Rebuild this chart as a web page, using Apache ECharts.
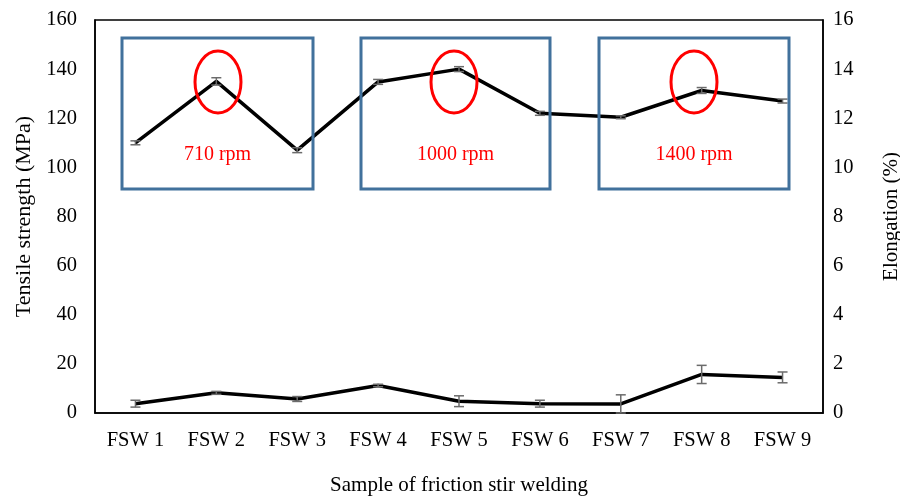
<!DOCTYPE html>
<html>
<head>
<meta charset="utf-8">
<script src="https://cdn.jsdelivr.net/npm/echarts@6/dist/echarts.min.js"></script>
<style>html,body{margin:0;padding:0;background:#fff}#c{width:900px;height:496px}</style>
</head>
<body>
<div id="c"></div>
<script>
var categories = ['FSW 1','FSW 2','FSW 3','FSW 4','FSW 5','FSW 6','FSW 7','FSW 8','FSW 9'];
var tensile = [110, 135, 107, 134.8, 140, 122, 120.4, 131.3, 127];
var tensileErr = [0.8, 1.5, 1.0, 1.0, 1.0, 0.8, 0.6, 1.2, 0.8];
var elongation = [0.38, 0.82, 0.57, 1.12, 0.48, 0.38, 0.37, 1.57, 1.45];
var elongationErr = [0.14, 0.06, 0.1, 0.05, 0.22, 0.14, 0.37, 0.37, 0.22];
var boxLabels = ['710 rpm', '1000 rpm', '1400 rpm'];

var FONT = '"Liberation Serif", "Times New Roman", serif';

function errItems(vals, errs) {
  return vals.map(function (v, i) { return [i, v - errs[i], v + errs[i]]; });
}
function errRender(params, api) {
  var x = api.value(0);
  var lo = api.coord([x, api.value(1)]);
  var hi = api.coord([x, api.value(2)]);
  var hw = 5;
  var st = { stroke: '#6b6b6b', lineWidth: 1.5 };
  return {
    type: 'group',
    children: [
      { type: 'line', shape: { x1: lo[0], y1: lo[1], x2: hi[0], y2: hi[1] }, style: st },
      { type: 'line', shape: { x1: lo[0] - hw, y1: lo[1], x2: lo[0] + hw, y2: lo[1] }, style: st },
      { type: 'line', shape: { x1: hi[0] - hw, y1: hi[1], x2: hi[0] + hw, y2: hi[1] }, style: st }
    ]
  };
}

var chart = echarts.init(document.getElementById('c'));
var boxes = [[122, 38, 191, 151], [361, 38, 189, 151], [599, 38, 190, 151]];
var ellipses = [[218, 82], [454, 82], [694, 82]];
var graphics = [];
boxes.forEach(function (b, i) {
  graphics.push({ type: 'rect', shape: { x: b[0], y: b[1], width: b[2], height: b[3] },
    style: { fill: null, stroke: '#41719c', lineWidth: 3 }, z: 10 });
  graphics.push({ type: 'text', x: b[0] + b[2] / 2, y: 155,
    style: { text: boxLabels[i], fill: '#ff0000', font: '20px ' + FONT, textAlign: 'center', textVerticalAlign: 'middle' }, z: 10 });
});
ellipses.forEach(function (e) {
  graphics.push({ type: 'ellipse', shape: { cx: e[0], cy: e[1], rx: 23, ry: 31 },
    style: { fill: null, stroke: '#ff0000', lineWidth: 3 }, z: 10 });
});

chart.setOption({
  animation: false,
  backgroundColor: '#fff',
  textStyle: { fontFamily: FONT },
  grid: { left: 95, right: 77, top: 20, bottom: 83, show: true, borderColor: '#000', borderWidth: 1.5,
    backgroundColor: 'transparent', containLabel: false, outerBoundsMode: 'none' },
  xAxis: {
    type: 'category', data: categories, boundaryGap: true,
    axisLine: { show: true, lineStyle: { color: '#000', width: 1.5 } },
    axisTick: { show: false },
    axisLabel: { color: '#000', fontSize: 20.5, fontFamily: FONT, margin: 17 },
    name: 'Sample of friction stir welding', nameLocation: 'middle', nameGap: 62,
    nameTextStyle: { color: '#000', fontSize: 21, fontFamily: FONT }
  },
  yAxis: [{
    type: 'value', min: 0, max: 160, interval: 20,
    axisLine: { show: true, lineStyle: { color: '#000', width: 1.5 } },
    axisTick: { show: false }, splitLine: { show: false },
    axisLabel: { color: '#000', fontSize: 20.5, fontFamily: FONT, margin: 18 },
    name: 'Tensile strength (MPa)', nameLocation: 'middle', nameGap: 60, nameRotate: 90,
    nameTextStyle: { color: '#000', fontSize: 22, fontFamily: FONT }
  }, {
    type: 'value', min: 0, max: 16, interval: 2,
    axisLine: { show: true, lineStyle: { color: '#000', width: 1.5 } },
    axisTick: { show: false }, splitLine: { show: false },
    axisLabel: { color: '#000', fontSize: 20.5, fontFamily: FONT, margin: 10 },
    name: 'Elongation (%)', nameLocation: 'middle', nameGap: 58, nameRotate: 90,
    nameTextStyle: { color: '#000', fontSize: 21, fontFamily: FONT }
  }],
  series: [
    { type: 'line', data: tensile, yAxisIndex: 0, symbol: 'none', lineStyle: { color: '#000', width: 3.5 }, z: 3 },
    { type: 'line', data: elongation, yAxisIndex: 1, symbol: 'none', lineStyle: { color: '#000', width: 3.5 }, z: 3 },
    { type: 'custom', yAxisIndex: 0, renderItem: errRender, data: errItems(tensile, tensileErr), z: 4, encode: { x: 0, y: [1, 2] } },
    { type: 'custom', yAxisIndex: 1, renderItem: errRender, data: errItems(elongation, elongationErr), z: 4, encode: { x: 0, y: [1, 2] } }
  ],
  graphic: graphics
});
</script>
</body>
</html>
